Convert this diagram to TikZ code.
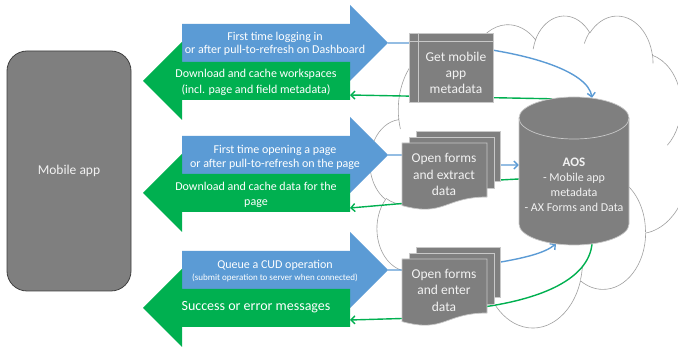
\documentclass[tikz,border=0pt]{standalone}
\usepackage{fontspec}
\setmainfont{Carlito}
\usetikzlibrary{arrows.meta,calc}
\definecolor{ablue}{HTML}{5B9BD5}
\definecolor{agreen}{HTML}{00B050}
\definecolor{agray}{HTML}{7F7F7F}
\definecolor{adark}{HTML}{404040}
\definecolor{aedge}{HTML}{C8C8C8}
\definecolor{acloud}{HTML}{A0A0A0}
\definecolor{atext}{HTML}{F2F2F2}
\tikzset{
  fs/.style n args={2}{font=\fontsize{#1}{#2}\selectfont},
  wtext/.style={text=white, align=center, inner sep=0pt},
  gtext/.style={text=atext, align=center, inner sep=0pt},
  shapebox/.style={fill=agray, draw=aedge, line width=0.7pt},
  bluelink/.style={draw=ablue, line width=1.4pt},
  greenlink/.style={draw=agreen, line width=1.4pt},
  barb/.style={-{Straight Barb[length=4pt,width=8pt]}},
  cloudline/.style={draw=acloud, line width=0.6pt},
}
\newcommand\bluearrow[2]{%
  \fill[ablue] (182,#1-19) -- (350,#1-19) -- (350,#1-38) -- (388,#1) -- (350,#1+38) -- (350,#1+19) -- (182,#1+19) -- cycle;
  \coordinate (#2) at (388,#1);
}
\newcommand\greenarrow[2]{%
  \fill[agreen] (350,#1-19) -- (182,#1-19) -- (182,#1-39) -- (143,#1) -- (182,#1+39) -- (182,#1+19) -- (350,#1+19) -- cycle;
}
\newcommand\multidoc[1]{%
  \begin{scope}[shift={(0,#1)}]
    \draw[shapebox] (416,-12) rectangle (500,38);
    \draw[shapebox] (409,-6) rectangle (494,45);
    \draw[shapebox] (402,0) -- (487,0) -- (487,54) .. controls (444.5,54) and (444.5,74.2) .. (402,62.6) -- cycle;
  \end{scope}
}
\begin{document}
\begin{tikzpicture}[x=1pt,y=-1pt]
\useasboundingbox (0,0) rectangle (678,347);
\fill[white] (0,0) rectangle (678,347);

% cloud
\begin{scope}[shift={(370,15)}, x=7.37pt, y=-7.22pt]
  \filldraw[fill=white, cloudline] (3.9,14.37)
    \foreach \w/\h/\s/\d [evaluate={\s as \ta using atan2(\w*sin(\s),\h*cos(\s))},
       evaluate={\d as \dd using mod(atan2(\w*sin(\s+\d),\h*cos(\s+\d))-atan2(\w*sin(\s),\h*cos(\s))+720,360)}]
    in {6.753/9.190/-190.4875/123.7805, 5.333/7.267/-144.1024/89.9452,
        4.365/5.945/-145.8079/99.7230, 4.857/6.595/-130.9861/117.2417,
        5.333/7.273/-78.7089/109.0269, 6.775/9.220/-46.2673/130.2690,
        5.785/7.867/0.6250/114.0333, 6.752/9.215/22.4516/115.1726,
        7.720/10.543/66.2426/75.7110, 4.360/5.918/-274.9421/146.7356,
        4.345/5.945/-246.8285/152.5189}
    { arc[start angle=\ta, delta angle=\dd, x radius=\w, y radius=\h] } -- cycle;
  \draw[cloudline]
    \foreach \px/\py/\w/\h/\s/\d [evaluate={\s as \ta using atan2(\w*sin(\s),\h*cos(\s))},
       evaluate={\d as \dd using mod(atan2(\w*sin(\s+\d),\h*cos(\s+\d))-atan2(\w*sin(\s),\h*cos(\s))+720,360)}]
    in {4.693/26.177/4.345/5.945/86.742/26.4295,
        6.928/34.899/4.360/5.918/73.6105/11.4475,
        16.478/39.090/6.752/9.215/137.6242/14.0811,
        28.827/34.751/6.752/9.215/6.4533/15.9984,
        34.129/22.954/5.785/7.867/-70.2924/70.9174,
        41.798/15.354/5.333/7.273/30.318/27.7515,
        38.324/5.426/4.857/6.595/-13.7443/14.8635,
        29.078/3.952/4.857/6.595/-149.1815/18.1968,
        22.141/4.720/4.365/5.945/-163.4943/17.6988,
        14.000/5.192/6.753/9.190/-66.7070/12.3194,
        4.127/15.789/6.753/9.190/157.6544/11.8582}
    { (\px,\py) arc[start angle=\ta, delta angle=\dd, x radius=\w, y radius=\h] };
\end{scope}

% big arrows
\bluearrow{43}{b1}
\greenarrow{81}{g1a}
\bluearrow{155}{b2}
\greenarrow{193}{g2a}
\bluearrow{270}{b3}
\greenarrow{308}{g3a}
\coordinate (g1) at (350,95);
\coordinate (g2) at (350,208);
\coordinate (g3) at (350,320);

% server node (shape drawn later)
\node[inner sep=0pt, minimum width=110pt, minimum height=148pt] (aos) at (574,171) {};

% connectors
\draw[bluelink, barb] (b1) -- (430,43) .. controls (530,50) and (588,72) .. ($(aos.north)+(18,1)$);
\draw[greenlink, barb] ($(aos.north)+(-22,2)$) -- (g1);
\draw[bluelink, barb] (b2) -- (445,155) -- (455,165) -- ($(aos.west)+(0,-6)$);
\draw[greenlink, barb] ($(aos.west)+(0,8)$) -- (490,180.5) -- (420,200) -- (402,203.5) -- (g2);
\draw[bluelink, barb] (b3) -- (450,270) -- (495,263) .. controls (525,258) and (545,253) .. ($(aos.south)+(-18,-1.5)$);
\draw[greenlink, barb] ($(aos.south)+(18,-1)$) .. controls (588,280) and (540,298) .. (490,306) -- (430,315) -- (402,318.5) -- (g3);

% mobile app
\node[fill=agray, draw=adark, line width=0.8pt, rounded corners=20pt, minimum width=124pt, minimum height=240pt, gtext, fs={13.5}{16}] (mob) at (69,171) {Mobile app};

% get mobile app metadata (internal storage)
\node[shapebox, minimum width=84pt, minimum height=69pt, inner sep=0pt] (gmm) at (451,67.5) {};
\draw[aedge, line width=0.7pt] ($(gmm.north west)+(10,0)$) -- ($(gmm.south west)+(10,0)$);
\draw[aedge, line width=0.7pt] ($(gmm.north west)+(0,9)$) -- ($(gmm.north east)+(0,9)$);
\node[gtext, fs={13.5}{16}] (gmmt) at (456,73) {Get mobile\\app\\metadata};

% multi documents
\multidoc{143}
\multidoc{259}
\node[gtext, fs={13.5}{16.5}] (doc2) at (444,174.5) {Open forms\\and extract\\data};
\node[gtext, fs={13.5}{16.5}] (doc3) at (444,290) {Open forms\\and enter\\data};

% cylinder
\fill[agray] (519,118) -- (519,224) arc[start angle=180, end angle=0, x radius=55, y radius=21] -- (629,118) arc[start angle=0, end angle=-180, x radius=55, y radius=21] -- cycle;
\draw[aedge, line width=0.7pt] (519,118) -- (519,224) arc[start angle=180, end angle=0, x radius=55, y radius=21] -- (629,118);
\draw[aedge, line width=0.7pt] (574,118) ellipse[x radius=55, y radius=21];
\node[gtext, fs={12}{15}] (aost) at (574,185) {{\fontsize{13}{15}\selectfont\bfseries AOS}\\- Mobile app\\metadata\\- AX Forms and Data};

% arrow texts
\node[wtext, fs={12}{13}] (t1b) at (275,43.5) {First time logging in\\or after pull-to-refresh on Dashboard};
\node[wtext, fs={12}{16}] (t1g) at (256,82) {Download and cache workspaces\\(incl. page and field metadata)};
\node[wtext, fs={12}{14}] (t2b) at (275,157) {First time opening a page\\or after pull-to-refresh on the page};
\node[wtext, fs={12}{15}] (t2g) at (256,194.5) {Download and cache data for the\\page};
\node[wtext, fs={12}{14}] (t3b) at (275,265) {Queue a CUD operation};
\node[wtext, fs={9}{11}] (t3bs) at (275,277.5) {(submit operation to server when connected)};
\node[wtext, fs={14}{16}] (t3g) at (256,307) {Success or error messages};
\end{tikzpicture}
\end{document}
